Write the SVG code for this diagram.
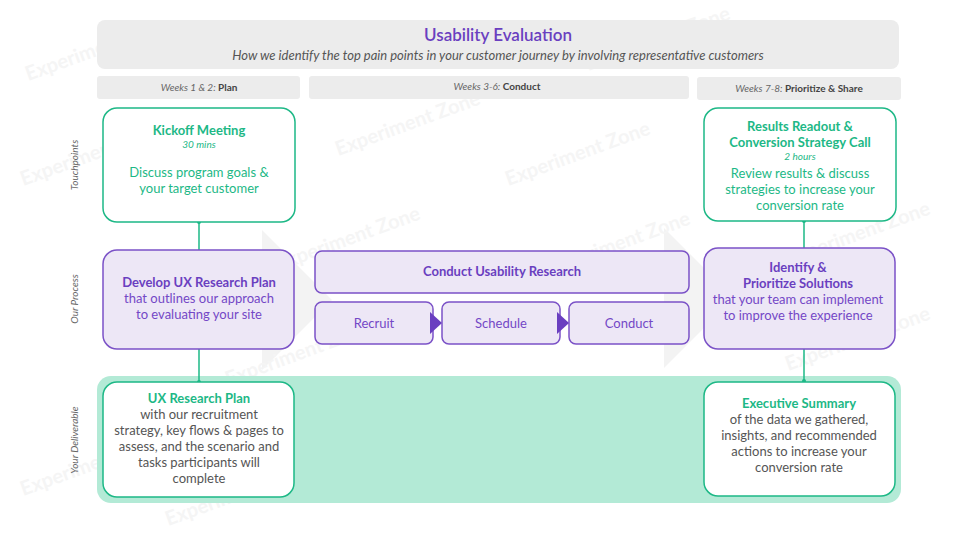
<svg xmlns="http://www.w3.org/2000/svg" width="960" height="540" viewBox="0 0 960 540">
<style>
text{font-family:Lato,"Liberation Sans",sans-serif;text-anchor:middle}
.wm{font-size:20px;fill:#f5f5f5;font-weight:bold}
.hdr{fill:#ececec}
.wk{font-size:10px;font-style:italic;fill:#666}
.wk tspan.b{font-weight:bold;font-style:normal;fill:#444}
.row{font-size:10px;font-style:italic;fill:#666}
.gbox{fill:#fff;stroke:#1db886;stroke-width:1.5}
.pbox{fill:#ede7f6;stroke:#7b52c7;stroke-width:1.5}
.gt{fill:#1db886;font-size:13px}
.gb{fill:#1db886;font-size:13px;font-weight:bold}
.gi{fill:#1db886;font-size:10px;font-style:italic}
.pt{fill:#7447c6;font-size:13px}
.pb{fill:#6a3fc0;font-size:13px;font-weight:bold}
.dt{fill:#555;font-size:13px}
.conn{stroke:#1db886;stroke-width:1.5;fill:none}
</style>
<rect width="960" height="540" fill="#fff"/>
<g id="background">
<polygon points="262,230 332,300 262,370" fill="#f3f3f3"/>
<polygon points="664,228 734,298 664,368" fill="#f3f3f3"/>
<text class="wm" transform="translate(100,55) rotate(-20)">Experiment Zone</text>
<text class="wm" transform="translate(410,130) rotate(-20)">Experiment Zone</text>
<text class="wm" transform="translate(580,160) rotate(-20)">Experiment Zone</text>
<text class="wm" transform="translate(350,245) rotate(-20)">Experiment Zone</text>
<text class="wm" transform="translate(620,250) rotate(-20)">Experiment Zone</text>
<text class="wm" transform="translate(300,360) rotate(-20)">Experiment Zone</text>
<text class="wm" transform="translate(95,160) rotate(-20)">Experiment Zone</text>
<text class="wm" transform="translate(860,345) rotate(-20)">Experiment Zone</text>
<text class="wm" transform="translate(860,240) rotate(-20)">Experiment Zone</text>
<text class="wm" transform="translate(660,45) rotate(-20)">Experiment Zone</text>
<text class="wm" transform="translate(95,470) rotate(-20)">Experiment Zone</text>
<text class="wm" transform="translate(240,500) rotate(-20)">Experiment Zone</text>
</g>
<g id="header">
<rect class="hdr" x="97" y="20" width="802" height="49" rx="8"/>
<text x="498" y="41" style="font-size:17px;fill:#6a3fc0;font-weight:600">Usability Evaluation</text>
<text x="498" y="60" style="font-size:13px;font-style:italic;fill:#555">How we identify the top pain points in your customer journey by involving representative customers</text>
</g>
<g id="weeks">
<rect class="hdr" x="97" y="76" width="203" height="23" rx="3"/>
<rect class="hdr" x="309" y="76" width="380" height="23" rx="3"/>
<rect class="hdr" x="697" y="77" width="204" height="23" rx="3"/>
<text class="wk" x="199" y="91">Weeks 1 &amp; 2: <tspan class="b">Plan</tspan></text>
<text class="wk" x="497" y="90">Weeks 3-6: <tspan class="b">Conduct</tspan></text>
<text class="wk" x="799" y="92">Weeks 7-8: <tspan class="b">Prioritize &amp; Share</tspan></text>
</g>
<g id="rows">
<text class="row" transform="translate(78,165) rotate(-90)">Touchpoints</text>
<text class="row" transform="translate(78,299) rotate(-90)">Our Process</text>
<text class="row" transform="translate(78,440) rotate(-90)">Your Deliverable</text>
</g>
<rect id="deliverable-band" x="97" y="376" width="804" height="127" rx="14" fill="#b3ead6"/>
<g id="connectors">
<line class="conn" x1="199" y1="222" x2="199" y2="382"/>
<line class="conn" x1="804" y1="221" x2="804" y2="381"/>
<circle cx="199" cy="222" r="2" fill="#1db886"/>
<circle cx="199" cy="382" r="2" fill="#1db886"/>
<circle cx="804" cy="221" r="2" fill="#1db886"/>
<circle cx="804" cy="381" r="2" fill="#1db886"/>
</g>
<g id="kickoff">
<rect class="gbox" x="103" y="108" width="192" height="114" rx="14"/>
<text class="gb" x="199" y="135">Kickoff Meeting</text>
<text class="gi" x="199" y="148">30 mins</text>
<text class="gt" x="199" y="177">Discuss program goals &amp;</text>
<text class="gt" x="199" y="193">your target customer</text>
</g>
<g id="results">
<rect class="gbox" x="704" y="108" width="192" height="113" rx="14"/>
<text class="gb" x="800" y="131">Results Readout &amp;</text>
<text class="gb" x="800" y="147">Conversion Strategy Call</text>
<text class="gi" x="800" y="160">2 hours</text>
<text class="gt" x="800" y="178">Review results &amp; discuss</text>
<text class="gt" x="800" y="194">strategies to increase your</text>
<text class="gt" x="800" y="210">conversion rate</text>
</g>
<g id="develop">
<rect class="pbox" x="103" y="250" width="191" height="99" rx="14"/>
<text class="pb" x="199" y="287">Develop UX Research Plan</text>
<text class="pt" x="199" y="303">that outlines our approach</text>
<text class="pt" x="199" y="319">to evaluating your site</text>
</g>
<g id="conduct-research">
<rect class="pbox" x="315" y="251" width="374" height="42" rx="7"/>
<text class="pb" x="502" y="276">Conduct Usability Research</text>
</g>
<g id="recruit">
<rect class="pbox" x="315" y="302" width="118" height="42" rx="7"/>
<text class="pt" x="374" y="328">Recruit</text>
</g>
<g id="schedule">
<rect class="pbox" x="442" y="302" width="118" height="42" rx="7"/>
<text class="pt" x="501" y="328">Schedule</text>
</g>
<g id="conduct">
<rect class="pbox" x="569" y="302" width="120" height="42" rx="7"/>
<text class="pt" x="629" y="328">Conduct</text>
</g>
<g id="step-arrows" fill="#6a3fc0">
<polygon points="430,312 442,323 430,334"/>
<polygon points="557,312 569,323 557,334"/>
</g>
<g id="identify">
<rect class="pbox" x="704" y="248" width="191" height="101" rx="14"/>
<text class="pb" x="798" y="272">Identify &amp;</text>
<text class="pb" x="798" y="288">Prioritize Solutions</text>
<text class="pt" x="798" y="304">that your team can implement</text>
<text class="pt" x="798" y="320">to improve the experience</text>
</g>
<g id="ux-plan">
<rect class="gbox" x="103" y="382" width="191" height="115" rx="14"/>
<text class="gb" x="199" y="403">UX Research Plan</text>
<text class="dt" x="199" y="419">with our recruitment</text>
<text class="dt" x="199" y="435">strategy, key flows &amp; pages to</text>
<text class="dt" x="199" y="451">assess, and the scenario and</text>
<text class="dt" x="199" y="467">tasks participants will</text>
<text class="dt" x="199" y="483">complete</text>
</g>
<g id="exec-summary">
<rect class="gbox" x="704" y="382" width="191" height="114" rx="14"/>
<text class="gb" x="799" y="408">Executive Summary</text>
<text class="dt" x="799" y="424">of the data we gathered,</text>
<text class="dt" x="799" y="440">insights, and recommended</text>
<text class="dt" x="799" y="456">actions to increase your</text>
<text class="dt" x="799" y="472">conversion rate</text>
</g>
</svg>
